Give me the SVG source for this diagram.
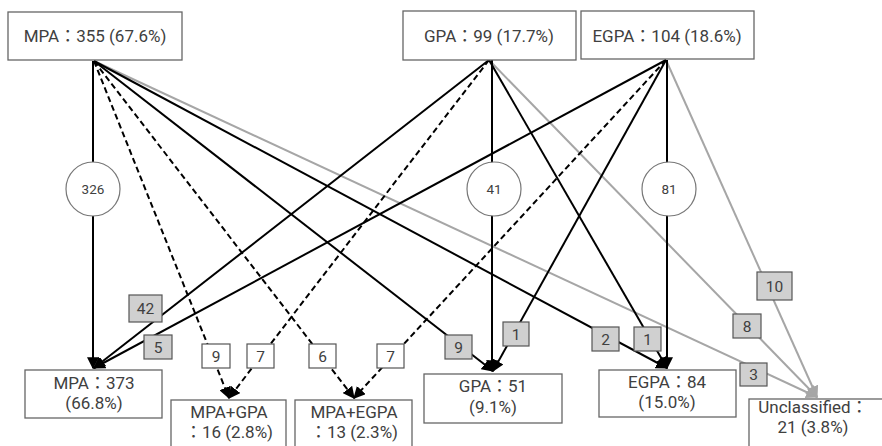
<svg xmlns="http://www.w3.org/2000/svg" width="882" height="446" viewBox="0 0 882 446">
<style>
.box{fill:#fff;stroke:#666;stroke-width:1.3}
.t{font-family:Roboto,"Noto Sans CJK JP",sans-serif;fill:#404040;text-anchor:middle}
.big{font-size:17px}
.mid{font-size:17px}
.lbl{font-size:15.5px}
.sm{font-size:13.5px}
.k{stroke:#000;stroke-width:2;fill:none}
.d{stroke:#000;stroke-width:2;fill:none;stroke-dasharray:6 3.5}
.g{stroke:#a6a6a6;stroke-width:2;fill:none}
.gl{fill:#d0d0d0;stroke:#555;stroke-width:1.2}
.wl{fill:#fff;stroke:#555;stroke-width:1.2}
.c{fill:#fff;stroke:#777;stroke-width:1.2}
</style>
<defs>
<marker id="ak" markerUnits="userSpaceOnUse" markerWidth="12" markerHeight="12" viewBox="0 0 10 10" refX="9" refY="5" orient="auto"><path d="M0,0 L10,5 L0,10 Z" fill="#000"/></marker>
<marker id="ag" markerUnits="userSpaceOnUse" markerWidth="12" markerHeight="12" viewBox="0 0 10 10" refX="9" refY="5" orient="auto"><path d="M0,0 L10,5 L0,10 Z" fill="#a6a6a6"/></marker>
</defs>
<g id="connectors">
<line class="g" x1="94" y1="61" x2="817" y2="397" marker-end="url(#ag)"/>
<line class="g" x1="489" y1="60" x2="817" y2="397" marker-end="url(#ag)"/>
<line class="g" x1="666" y1="60" x2="817" y2="397" marker-end="url(#ag)"/>
<line class="k" x1="93" y1="61" x2="93" y2="368" marker-end="url(#ak)"/>
<line class="d" x1="94" y1="61" x2="229" y2="398" marker-end="url(#ak)"/>
<line class="d" x1="94" y1="61" x2="354" y2="398" marker-end="url(#ak)"/>
<line class="k" x1="94" y1="61" x2="493" y2="371" marker-end="url(#ak)"/>
<line class="k" x1="94" y1="61" x2="667" y2="368" marker-end="url(#ak)"/>
<line class="k" x1="492" y1="60" x2="492" y2="371" marker-end="url(#ak)"/>
<line class="k" x1="489" y1="60" x2="94" y2="368" marker-end="url(#ak)"/>
<line class="d" x1="489" y1="60" x2="229" y2="398" marker-end="url(#ak)"/>
<line class="k" x1="489" y1="60" x2="667" y2="368" marker-end="url(#ak)"/>
<line class="k" x1="667" y1="60" x2="667" y2="368" marker-end="url(#ak)"/>
<line class="k" x1="666" y1="60" x2="94" y2="368" marker-end="url(#ak)"/>
<line class="d" x1="666" y1="60" x2="354" y2="398" marker-end="url(#ak)"/>
<line class="k" x1="666" y1="60" x2="493" y2="371" marker-end="url(#ak)"/>
</g>
<g id="edge-labels">
<g><circle class="c" cx="93" cy="189" r="27"/><text class="t sm" x="93" y="194">326</text></g>
<g><circle class="c" cx="494" cy="189" r="27"/><text class="t sm" x="494" y="194">41</text></g>
<g><circle class="c" cx="669" cy="189" r="27"/><text class="t sm" x="669" y="194">81</text></g>
<g><rect class="gl" x="129" y="295" width="33" height="27"/><text class="t lbl" x="145.5" y="314">42</text></g>
<g><rect class="gl" x="144" y="335" width="28" height="24"/><text class="t lbl" x="158" y="352.5">5</text></g>
<g><rect class="wl" x="202" y="344" width="28" height="24"/><text class="t lbl" x="216" y="361.5">9</text></g>
<g><rect class="wl" x="247" y="344" width="27" height="24"/><text class="t lbl" x="260.5" y="361.5">7</text></g>
<g><rect class="wl" x="309" y="344" width="27" height="24"/><text class="t lbl" x="322.5" y="361.5">6</text></g>
<g><rect class="wl" x="377" y="344" width="27" height="24"/><text class="t lbl" x="390.5" y="361.5">7</text></g>
<g><rect class="gl" x="445" y="335" width="27" height="24"/><text class="t lbl" x="458.5" y="352.5">9</text></g>
<g><rect class="gl" x="503" y="322" width="26" height="24"/><text class="t lbl" x="516" y="339.5">1</text></g>
<g><rect class="gl" x="592" y="327" width="27" height="24"/><text class="t lbl" x="605.5" y="344.5">2</text></g>
<g><rect class="gl" x="634" y="327" width="27" height="24"/><text class="t lbl" x="647.5" y="344.5">1</text></g>
<g><rect class="gl" x="757" y="272" width="35" height="28"/><text class="t lbl" x="774.5" y="291.5">10</text></g>
<g><rect class="gl" x="733" y="314" width="28" height="24"/><text class="t lbl" x="747" y="331.5">8</text></g>
<g><rect class="gl" x="740" y="363" width="27" height="23"/><text class="t lbl" x="753.5" y="380">3</text></g>
</g>
<g id="n-mpa-top"><rect class="box" x="8" y="12" width="174" height="48"/><text class="t big" x="95" y="42">MPA：355 (67.6%)</text></g>
<g id="n-gpa-top"><rect class="box" x="403" y="11" width="173" height="49"/><text class="t big" x="489" y="42">GPA：99 (17.7%)</text></g>
<g id="n-egpa-top"><rect class="box" x="581" y="11" width="173" height="48"/><text class="t big" x="667" y="42">EGPA：104 (18.6%)</text></g>
<g id="n-mpa"><rect class="box" x="25" y="370" width="137" height="48"/><text class="t mid" x="94" y="389">MPA：373</text><text class="t mid" x="94" y="409">(66.8%)</text></g>
<g id="n-mpagpa"><rect class="box" x="171" y="400" width="115" height="50"/><text class="t mid" x="229" y="418">MPA+GPA</text><text class="t mid" x="229" y="438">：16 (2.8%)</text></g>
<g id="n-mpaegpa"><rect class="box" x="295" y="400" width="117" height="50"/><text class="t mid" x="354" y="418">MPA+EGPA</text><text class="t mid" x="354" y="438">：13 (2.3%)</text></g>
<g id="n-gpa"><rect class="box" x="424" y="374" width="138" height="49"/><text class="t mid" x="493" y="392">GPA：51</text><text class="t mid" x="493" y="413">(9.1%)</text></g>
<g id="n-egpa"><rect class="box" x="599" y="370" width="137" height="47"/><text class="t mid" x="667" y="388">EGPA：84</text><text class="t mid" x="667" y="408">(15.0%)</text></g>
<g id="n-unclassified"><rect class="box" x="749" y="399" width="140" height="52"/><text class="t mid" x="813" y="413">Unclassified：</text><text class="t mid" x="813" y="433">21 (3.8%)</text></g>
</svg>
